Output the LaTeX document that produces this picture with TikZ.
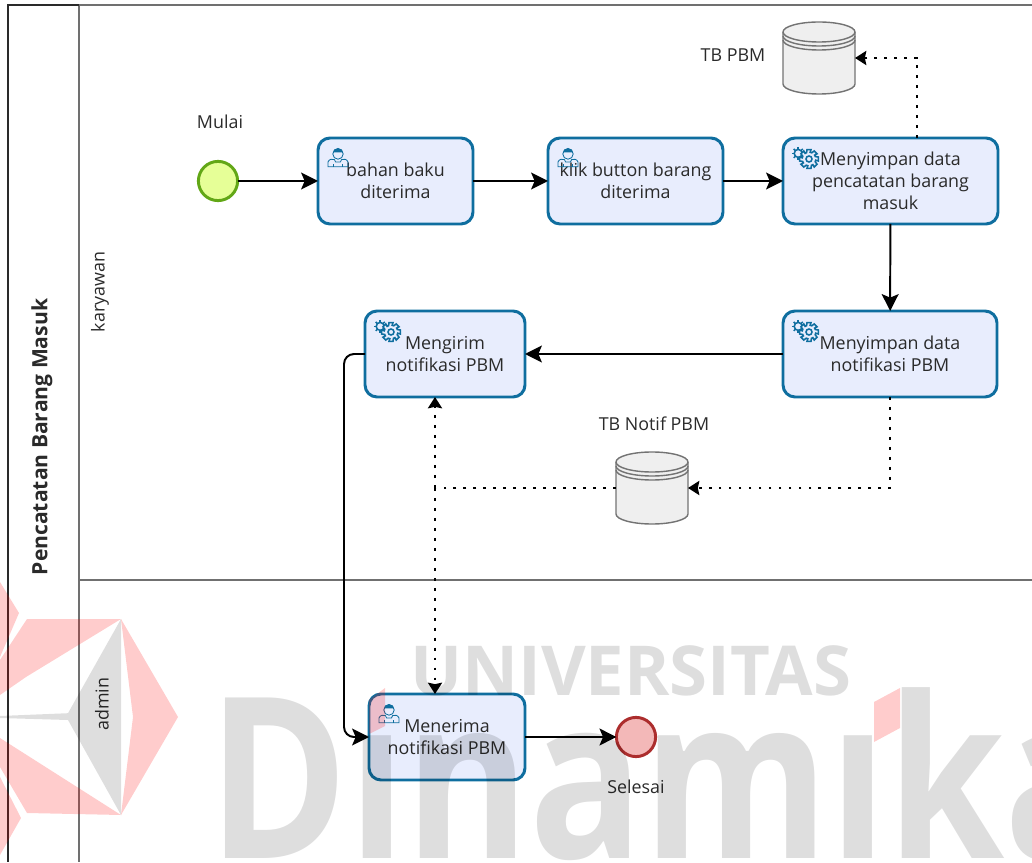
\documentclass[tikz,border=0pt]{standalone}
\usepackage{fontspec}
\setmainfont{Open Sans}
\usetikzlibrary{arrows.meta}

\definecolor{taskline}{HTML}{0F6E9F}
\definecolor{taskfill}{HTML}{E8EDFD}
\definecolor{textdark}{HTML}{2A2A2A}
\definecolor{startline}{HTML}{62A716}
\definecolor{startfill}{HTML}{E6FF97}
\definecolor{endline}{HTML}{AC2D2D}
\definecolor{endfill}{HTML}{F3B8B8}
\definecolor{storeline}{HTML}{737373}
\definecolor{storefill}{HTML}{EFEFEF}
\definecolor{poolline}{HTML}{707070}

\tikzset{
	label text/.style={text=textdark,font=\fontsize{12.7}{15.6}\selectfont,align=center},
	task/.style={draw=taskline,fill=taskfill,line width=2.1pt,outer sep=0,rounded corners=.3cm,minimum height=2.15cm,label text},
	startevent/.style={circle,draw=startline,fill=startfill,line width=2.1pt,outer sep=0,minimum size=.98cm},
	endevent/.style={circle,draw=endline,fill=endfill,line width=2.1pt,outer sep=0,minimum size=.98cm},
	datastore/.style={minimum width=1.8cm,minimum height=1.8cm,inner sep=0,outer sep=0},
	flow/.style={line width=1.4pt,-{Stealth[length=12pt,width=12pt,inset=2.5pt]}},
	dataflow/.style={line width=2pt,dash pattern=on 2pt off 5.1pt,-{Stealth[length=8pt,width=10pt,inset=1pt]}},
	pools/.style={draw=poolline,line width=.9pt},
	pics/storeicon/.style={code={
		\draw[draw=storeline,fill=storefill,line width=1pt] (-.9,.65) -- (-.9,-.65) arc[start angle=180,end angle=360,x radius=.9,y radius=.25] -- (.9,.65) arc[start angle=0,end angle=180,x radius=.9,y radius=.25] -- cycle;
		\draw[draw=storeline,line width=1pt] (-.9,.65) arc[start angle=180,end angle=360,x radius=.9,y radius=.25];
		\draw[draw=storeline,line width=1pt] (-.9,.55) arc[start angle=180,end angle=360,x radius=.9,y radius=.25];
		\draw[draw=storeline,line width=1pt] (-.9,.45) arc[start angle=180,end angle=360,x radius=.9,y radius=.25];
	}},
	pics/usericon/.style={code={
		\draw[taskline,line width=.6pt] (-.25,-.22) -- (-.25,-.1) .. controls (-.22,-.02) and (-.14,-.02) .. (-.09,-.04) -- (-.06,-.1) -- (.06,-.1) -- (.09,-.04) .. controls (.14,-.02) and (.22,-.02) .. (.25,-.1) -- (.25,-.22) -- cycle;
		\draw[taskline,line width=.6pt] (-.12,-.22) -- (-.12,-.14);
		\draw[taskline,line width=.6pt] (.12,-.22) -- (.12,-.14);
		\draw[taskline,line width=.6pt] (0,.1) circle (.13);
		\fill[taskline] (-.13,.12) arc[start angle=180,end angle=0,radius=.13] -- (.1,.14) -- (-.1,.14) -- cycle;
	}},
	pics/gearicon/.style={code={
		\foreach \a in {0,45,...,315}
			\draw[taskline,line width=1.1pt] (-.27+.16*cos \a,.14+.16*sin \a) -- (-.27+.1*cos \a,.14+.1*sin \a);
		\draw[taskline,line width=1.1pt] (-.27,.14) circle (.1);
		\draw[taskline,line width=1.1pt,fill=taskfill] (-12:.24) \foreach \a in {0,45,...,315} {-- (\a-12:.24) -- (\a+12:.24) -- (\a+21:.17) -- (\a+35:.17)} -- cycle;
		\draw[taskline,line width=1.1pt] (0,0) circle (.075);
	}}
}

\begin{document}
\begin{tikzpicture}
	\useasboundingbox (0,0) rectangle (25.8,21.55);

	\draw[pools] (1.975,21.425) -- (25.8,21.425);
	\draw[pools] (1.975,21.425) -- (1.975,0);
	\draw[pools] (1.975,7.05) -- (25.8,7.05);
	\draw[line width=1pt,draw=textdark] (1.975,21.425) -- (.2,21.425) -- (.2,0);

	\node[label text,rotate=90,font=\fontsize{15}{18}\selectfont\bfseries] (poolTitle) at (1.05,10.625) {Pencatatan Barang Masuk};
	\node[label text,rotate=90] (laneKaryawan) at (2.5,14.25) {karyawan};
	\node[label text,rotate=90] (laneAdmin) at (2.55,3.95) {admin};

	\node[startevent](mulai) at (5.45,17.025) {};
	\node[task,minimum width=3.875cm](bahan) at (9.8875,17.025) {bahan baku\\diterima};
	\node[task,minimum width=4.375cm](klik) at (15.8875,17.025) {klik button barang\\diterima};
	\node[task,minimum width=5.375cm](simpanData) at (22.2625,17.025) {Menyimpan data\\pencatatan barang\\masuk};
	\node[task,minimum width=5.35cm](simpanNotif) at (22.25,12.7) {Menyimpan data\\notifikasi PBM};
	\node[task,minimum width=4cm](mengirim) at (11.125,12.7) {Mengirim\\notifikasi PBM};
	\node[task,minimum width=3.9cm](menerima) at (11.175,3.125) {Menerima\\notifikasi PBM};
	\node[endevent](selesai) at (15.9,3.125) {};
	\node[datastore](tbPBM) at (20.475,20.1) {};
	\node[datastore](tbNotif) at (16.3,9.35) {};

	\pic at (tbPBM) {storeicon};
	\pic at (tbNotif) {storeicon};
	\foreach \t in {bahan,klik,menerima}
		\pic at ([shift={(.5,-.5)}]\t.north west) {usericon};
	\foreach \t in {simpanData,simpanNotif,mengirim}
		\pic at ([shift={(.65,-.525)}]\t.north west) {gearicon};

	\node[label text] (mulaiText) at (5.5,18.5) {Mulai};
	\node[label text] (selesaiText) at (15.9,1.875) {Selesai};
	\node[label text] (tbPBMText) at (18.325,20.175) {TB PBM};
	\node[label text] (tbNotifText) at (16.35,10.95) {TB Notif PBM};

	\coordinate (tapData) at (22.925,20.1);
	\coordinate (junction) at (10.875,9.35);

	\draw[flow] (mulai) -- (bahan);
	\draw[flow] (bahan) -- (klik);
	\draw[flow] (klik) -- (simpanData);
	\draw[flow] (simpanData) -- (simpanNotif);
	\draw[flow] (simpanNotif) -- (mengirim);
	\draw[flow,rounded corners=.25cm] (mengirim.west) -- ++(-.525,0) |- (menerima.west);
	\draw[flow] (menerima) -- (selesai);

	\draw[dataflow] (simpanData.north -| tapData) -- (tapData) -- (tbPBM.east);
	\draw[dataflow] (simpanNotif.south) |- (tbNotif.east);
	\draw[dataflow,-] (tbNotif.west) -- (junction);
	\draw[dataflow] (junction) -- (mengirim.south -| junction);
	\draw[dataflow] (junction) -- (menerima.north -| junction);

	\begin{scope}[fill opacity=.13,text opacity=.13]
		\fill (3.025,6.075) -- (3.025,1.175) -- (1.7,3.55) -- (0,3.6) -- (0,3.65) -- (1.7,3.72) -- cycle;
		\node[anchor=base west,inner sep=0,font=\fontsize{49}{49}\selectfont\bfseries] (wmUniv) at (10.25,4.175) {UNIVERSITAS};
		\node[anchor=base west,inner sep=0,xscale=.84,font=\fontsize{160}{160}\selectfont\bfseries] (wmDina) at (5.2,.1) {Dınamıka};
	\end{scope}
	\begin{scope}[fill=red,fill opacity=.2]
		\fill (3.025,6.075) -- (4.45,3.625) -- (3.025,1.175) -- (3.325,3.625) -- cycle;
		\fill (.675,6.075) -- (3.025,6.075) -- (.65,4.625) -- (0,4.175) -- (0,5.05) -- cycle;
		\fill (.675,1.225) -- (3.025,1.175) -- (0,3.1) -- (0,2.375) -- cycle;
		\fill (0,7) -- (.475,6.225) -- (0,5.125) -- cycle;
		\fill (0,2.125) -- (.525,1.1) -- (0,.175) -- cycle;
		\fill (9.225,4.05) -- (9.625,4.35) -- (9.625,3.4) -- (9.225,3.2) -- cycle;
		\fill (21.85,4) -- (22.5,4.35) -- (22.5,3.35) -- (21.85,3) -- cycle;
	\end{scope}
\end{tikzpicture}
\end{document}
